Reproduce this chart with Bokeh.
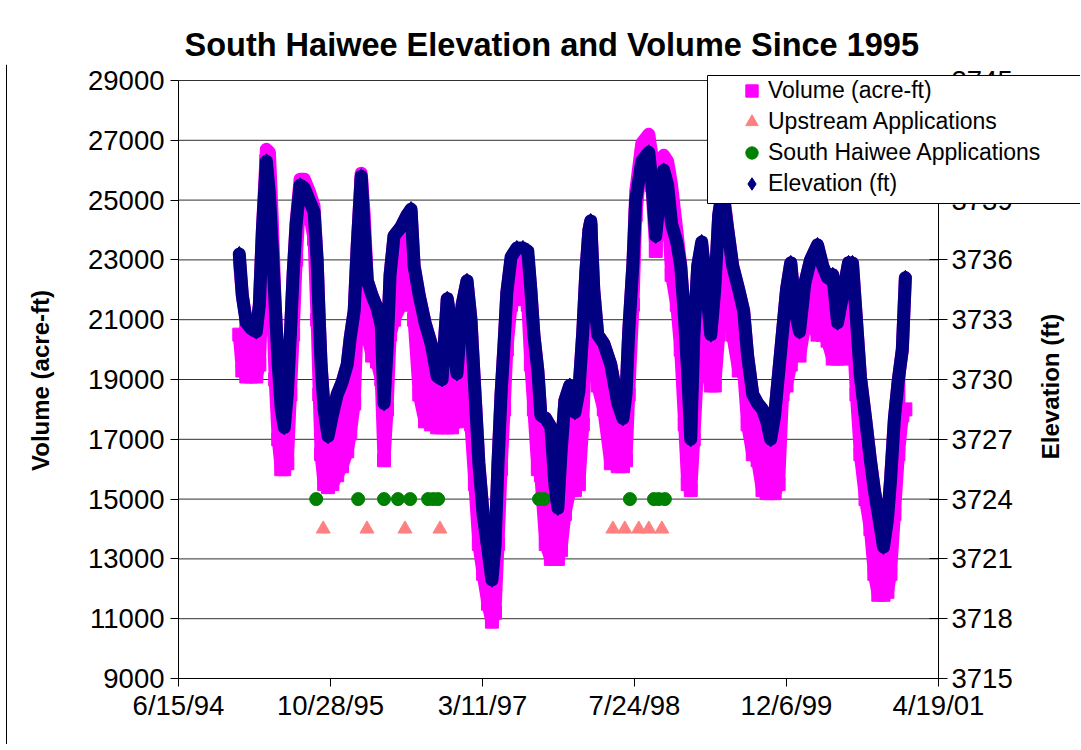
import numpy as np
import pandas as pd
from bokeh.plotting import figure
from bokeh.models import (Range1d, LinearAxis, FixedTicker, Legend, LegendItem,
                          BoxAnnotation, ColumnDataSource, Label, Span)
from bokeh.embed import file_html
from bokeh.resources import INLINE

# ---------------- data ----------------
dates = [
    "1995-01-01","1995-01-11","1995-01-24","1995-02-09","1995-02-26","1995-03-08","1995-03-18","1995-03-31",
    "1995-04-10","1995-04-19","1995-04-29","1995-05-09","1995-05-19","1995-05-29","1995-06-08","1995-06-18",
    "1995-06-27","1995-07-07","1995-07-20","1995-08-03","1995-08-19","1995-09-04","1995-09-14","1995-09-21",
    "1995-09-27","1995-10-07","1995-10-20","1995-11-03","1995-11-19","1995-12-05","1995-12-22",
    "1996-01-01","1996-01-14","1996-01-24","1996-02-06","1996-02-16","1996-02-26","1996-03-13","1996-03-29",
    "1996-04-12","1996-04-21","1996-05-01","1996-05-11","1996-05-24","1996-06-16","1996-07-06","1996-07-19",
    "1996-07-29","1996-08-15","1996-09-03","1996-09-23","1996-10-13","1996-10-29","1996-11-15","1996-12-01",
    "1996-12-17",
    "1997-01-03","1997-01-19","1997-02-01","1997-02-14","1997-02-27","1997-03-13","1997-03-29","1997-04-11",
    "1997-04-21","1997-05-01","1997-05-11","1997-05-21","1997-05-30","1997-06-13","1997-07-02","1997-07-22",
    "1997-08-07","1997-08-17","1997-08-27","1997-09-09","1997-09-19","1997-10-05","1997-10-22","1997-11-04",
    "1997-11-14","1997-11-24","1997-12-07","1997-12-23",
    "1998-01-09","1998-01-22","1998-02-04","1998-02-14","1998-02-24","1998-03-02","1998-03-12","1998-03-25",
    "1998-04-14","1998-05-07","1998-05-30","1998-06-16","1998-06-26","1998-07-05","1998-07-19","1998-07-28",
    "1998-08-17","1998-09-09","1998-09-19","1998-10-02","1998-10-15","1998-10-28","1998-11-10","1998-11-23",
    "1998-12-10","1998-12-23",
    "1999-01-05","1999-01-15","1999-01-25","1999-02-04","1999-02-17","1999-03-02","1999-03-15","1999-04-01",
    "1999-04-14","1999-04-27","1999-05-10","1999-05-27","1999-06-12","1999-07-02","1999-07-18","1999-07-31",
    "1999-08-17","1999-09-02","1999-09-18","1999-10-02","1999-10-15","1999-10-28","1999-11-10","1999-11-23",
    "1999-12-06","1999-12-20",
    "2000-01-05","2000-01-18","2000-02-04","2000-02-23","2000-03-17","2000-04-03","2000-04-19","2000-05-06",
    "2000-05-22","2000-06-11","2000-06-27","2000-07-10","2000-07-23","2000-08-05","2000-08-22","2000-09-07",
    "2000-09-20","2000-10-03","2000-10-20","2000-11-02","2000-11-12","2000-11-25","2000-12-08","2000-12-21",
    "2000-12-31",
]

# Elevation (ft) - right axis
elevation_ft = [
    3736.30, 3734.20, 3732.85, 3732.55, 3732.40, 3733.75, 3737.50, 3740.95, 3739.30, 3736.75, 3733.75,
    3730.75, 3728.50, 3727.60, 3729.25, 3732.25, 3735.25, 3737.80, 3739.75, 3739.60, 3739.00, 3738.40,
    3736.00, 3733.00, 3730.75, 3728.50, 3727.15, 3728.20, 3729.25, 3729.85, 3730.75,
    3732.10, 3733.45, 3736.75, 3740.20, 3737.50, 3734.95, 3734.20, 3733.60, 3732.70, 3728.80, 3731.50,
    3735.25, 3737.20, 3737.65, 3738.25, 3738.55, 3735.70, 3734.20, 3732.85, 3731.80, 3730.15, 3730.00,
    3734.05, 3732.40, 3730.30,
    3733.75, 3734.95, 3733.00, 3729.40, 3725.80, 3723.25, 3721.45, 3719.95, 3721.60, 3725.80, 3729.25,
    3731.80, 3734.35, 3736.15, 3736.60, 3736.60, 3736.45, 3734.50, 3732.25, 3730.45, 3728.20, 3728.05,
    3727.60, 3724.75, 3723.55, 3726.25, 3728.95, 3729.70,
    3728.35, 3729.40, 3732.40, 3735.40, 3737.50, 3737.95, 3734.50, 3732.25, 3731.80, 3730.75, 3728.80,
    3728.05, 3729.25, 3732.40, 3735.85, 3739.00, 3740.95, 3741.40, 3739.90, 3737.20, 3739.30, 3740.50,
    3739.75, 3737.80, 3736.90, 3735.70,
    3733.00, 3730.30, 3727.00, 3732.10, 3735.70, 3736.90, 3734.95, 3732.25, 3734.50, 3738.25, 3739.45,
    3737.50, 3735.70, 3734.50, 3733.45, 3731.20, 3729.25, 3728.80, 3728.50, 3727.90, 3727.00, 3728.20,
    3730.30, 3732.40, 3734.50, 3735.85,
    3733.30, 3732.40, 3734.80, 3736.00, 3736.75, 3735.70, 3735.10, 3735.25, 3732.85, 3734.50, 3735.85,
    3735.85, 3733.00, 3730.15, 3728.05, 3725.95, 3724.45, 3723.25, 3721.60, 3722.95, 3724.90, 3728.05,
    3730.00, 3731.50, 3735.10,
]

# Volume (acre-ft) - lower and upper edge of the daily spread
volume_low = [
    20500, 19300, 19100, 19100, 19100, 19500, 22000, 26300, 25500, 22000, 19000, 17000, 16000, 16000,
    16200, 18500, 20500, 23000, 25200, 25300, 24600, 23700, 21000, 18500, 16500, 15500, 15400, 15500,
    15800, 16100, 16600,
    17200, 18200, 21000, 25500, 22000, 20500, 19800, 19600, 19000, 16300, 18000, 20500, 21000, 21500,
    22500, 23500, 21000, 18500, 17600, 17500, 17400, 17400, 17400, 17400, 17600,
    17700, 18500, 17500, 15500, 13500, 12500, 11500, 10900, 11200, 13500, 16000, 18000, 20000, 21500,
    21700, 21700, 21500, 19500, 18000, 16000, 15800, 13500, 13000, 13000, 13000, 13300, 14500, 15300,
    15300, 15500, 17500, 20500, 23000, 24000, 20500, 18800, 18000, 16200, 16100, 16100, 16300, 18500,
    21500, 24500, 26500, 26800, 25500, 23300, 25000, 26000, 25000, 22500, 21500, 20000,
    17500, 15500, 15300, 17000, 19500, 20500, 19500, 18800, 18800, 20500, 22500, 21500, 20500, 19300,
    19300, 17500, 16500, 16300, 15300, 15200, 15200, 15200, 15500, 18500, 18800, 19500,
    20500, 19800, 20800, 21000, 20500, 20500, 20300, 19700, 19700, 19700, 20500, 21000, 18500, 16500,
    15000, 14000, 12500, 11800, 11800, 11900, 12500, 14500, 16500, 17800, 18000,
]
volume_high = [
    23000, 21800, 21000, 20800, 20700, 21500, 24000, 26700, 26600, 24500, 21500, 19500, 18000, 17400,
    18500, 20500, 22500, 24300, 25700, 25700, 25300, 24800, 23000, 21000, 19500, 18000, 17100, 17800,
    18500, 18900, 19500,
    20400, 21300, 23500, 25900, 24500, 22300, 21800, 21400, 20800, 18200, 20000, 22500, 23800, 24100,
    24500, 24600, 22800, 21800, 20900, 20200, 19100, 19000, 21700, 20600, 19200,
    21500, 22300, 21000, 18600, 16200, 14500, 13300, 12300, 13400, 16200, 18500, 20200, 21900, 23000,
    23200, 23200, 23100, 22000, 20500, 19300, 17800, 17700, 17400, 15500, 14700, 16500, 18300, 18800,
    17900, 18600, 20600, 22600, 24000, 24300, 22000, 20500, 20200, 19500, 18200, 17700, 18500, 20600,
    22900, 25300, 26900, 27200, 26500, 24000, 25800, 26500, 26300, 25500, 24000, 22800,
    21000, 19200, 17000, 20400, 22800, 23500, 22300, 20500, 22000, 24500, 25500, 24000, 22800, 22000,
    21300, 19800, 18500, 18200, 18000, 17600, 17000, 17800, 19200, 20600, 22000, 22900,
    21200, 20600, 22200, 23000, 23500, 22800, 22400, 22500, 20900, 22000, 22900, 22900, 21000, 19100,
    17700, 16300, 15300, 14500, 13400, 14300, 15600, 17700, 19000, 20000, 22400,
]

upstream_dates = ["1995-10-04", "1996-02-25", "1996-06-29", "1996-10-22",
                  "1998-05-14", "1998-06-22", "1998-08-07", "1998-09-09", "1998-10-22"]
upstream_marker_level = 14000
haiwee_dates = ["1995-09-11", "1996-01-27", "1996-04-21", "1996-06-06", "1996-07-16",
                "1996-09-13", "1996-09-30", "1996-10-16", "1997-09-13", "1997-09-29",
                "1998-07-09", "1998-09-26", "1998-10-12", "1998-11-01"]
haiwee_marker_level = 15000

x_tick_days = [0, 500, 1000, 1500, 2000, 2500]
x_tick_labels = ["6/15/94", "10/28/95", "3/11/97", "7/24/98", "12/6/99", "4/19/01"]
volume_ticks = [9000, 11000, 13000, 15000, 17000, 19000, 21000, 23000, 25000, 27000, 29000]
elevation_ticks = [3715, 3718, 3721, 3724, 3727, 3730, 3733, 3736, 3739, 3742, 3745]

# ---------------- helpers ----------------
origin = pd.Timestamp("1994-06-15")


def to_days(ds):
    return [(pd.Timestamp(d) - origin).days for d in ds]


FONT = "Liberation Sans"
PINK = "#FF00FF"
NAVY = "#000080"
SALMON = "#FF8080"
GREEN = "#008000"

# ---------------- geometry (pixels on the page) ----------------
W, H = 1080, 744
TOP = 64                               # frame top (title lives above it)
AX_LEFT, AX_RIGHT = 178, 938           # pixel columns of day 0 and day 2500
AX_TOP, AX_BOTTOM = 80, 678            # pixel rows of 29000 and 9000
d_per_px = (x_tick_days[-1] - x_tick_days[0]) / (AX_RIGHT - AX_LEFT)
v_lo, v_hi = volume_ticks[0], volume_ticks[-1]
e_lo, e_hi = elevation_ticks[0], elevation_ticks[-1]
v_per_px = (v_hi - v_lo) / (AX_BOTTOM - AX_TOP)
e_per_px = (e_hi - e_lo) / (AX_BOTTOM - AX_TOP)


def px_to_day(px):
    return x_tick_days[0] + (px - AX_LEFT) * d_per_px


def py_to_vol(py):
    return v_hi - (py - AX_TOP) * v_per_px


x_start, x_end = px_to_day(0), px_to_day(W)
v_top, v_bot = py_to_vol(TOP), py_to_vol(H)
e_top = e_hi + (AX_TOP - TOP) * e_per_px
e_bot = e_lo - (H - AX_BOTTOM) * e_per_px

src = ColumnDataSource(dict(x=to_days(dates), elev=elevation_ft, vlo=volume_low, vhi=volume_high))
up_src = ColumnDataSource(dict(x=to_days(upstream_dates), y=[upstream_marker_level] * len(upstream_dates)))
hw_src = ColumnDataSource(dict(x=to_days(haiwee_dates), y=[haiwee_marker_level] * len(haiwee_dates)))

p = figure(width=W, height=H, output_backend="svg", toolbar_location=None,
           x_range=Range1d(x_start, x_end), y_range=Range1d(v_bot, v_top),
           min_border_left=0, min_border_right=0, min_border_top=TOP, min_border_bottom=0)
p.extra_y_ranges = {"elev": Range1d(e_bot, e_top)}
p.outline_line_color = None
p.background_fill_color = "white"
p.border_fill_color = "white"

# title
p.title.text = "South Haiwee Elevation and Volume Since 1995"
p.title.align = "left"
p.title.offset = 184
p.title.text_font = FONT
p.title.text_font_size = "32.5px"
p.title.text_font_style = "bold"
p.title.text_color = "black"
p.title.standoff = 4

# outer chart border on the left
p.add_layout(Span(location=px_to_day(6), dimension="height", line_color="black", line_width=1))

# grid: horizontal lines only across the dated span
p.xgrid.visible = False
p.ygrid.visible = False
n = len(volume_ticks)
p.segment(x0=[x_tick_days[0]] * n, y0=volume_ticks, x1=[x_tick_days[-1]] * n, y1=volume_ticks,
          line_color="#303030", line_width=1)


def style_axis(ax):
    ax.axis_line_color = "black"
    ax.major_tick_line_color = "black"
    ax.minor_tick_line_color = None
    ax.major_label_text_font = FONT
    ax.major_label_text_font_size = "27.5px"
    ax.major_label_text_color = "black"


xa = p.below[0]
style_axis(xa)
xa.fixed_location = v_lo
xa.ticker = FixedTicker(ticks=x_tick_days)
xa.bounds = (x_tick_days[0], x_tick_days[-1])
xa.major_label_overrides = {d: lab for d, lab in zip(x_tick_days, x_tick_labels)}
xa.major_tick_in = 0
xa.major_tick_out = 8
xa.major_label_standoff = 3

ya = p.left[0]
style_axis(ya)
ya.fixed_location = x_tick_days[0]
ya.ticker = FixedTicker(ticks=volume_ticks)
ya.bounds = (v_lo, v_hi)
ya.major_tick_in = 0
ya.major_tick_out = 8
ya.major_label_standoff = 6

ra = LinearAxis(y_range_name="elev", ticker=FixedTicker(ticks=elevation_ticks),
                fixed_location=x_tick_days[-1], bounds=(e_lo, e_hi))
style_axis(ra)
ra.major_tick_in = 9
ra.major_tick_out = 9
ra.major_label_standoff = 4
p.add_layout(ra, "right")

# axis titles
p.add_layout(Label(x=px_to_day(40), y=py_to_vol(380), text="Volume (acre-ft)", angle=np.pi / 2,
                   text_align="center", text_baseline="middle", text_font=FONT, text_font_size="24px",
                   text_font_style="bold", text_color="black"))
p.add_layout(Label(x=px_to_day(1050), y=py_to_vol(386), text="Elevation (ft)", angle=np.pi / 2,
                   text_align="center", text_baseline="middle", text_font=FONT, text_font_size="24px",
                   text_font_style="bold", text_color="black"))

# ---------------- series ----------------
p.varea(x="x", y1="vlo", y2="vhi", source=src, fill_color=PINK, fill_alpha=1)
p.line(x="x", y="vlo", source=src, line_color=PINK, line_width=13, line_join="round", line_cap="round")
p.line(x="x", y="vhi", source=src, line_color=PINK, line_width=13, line_join="round", line_cap="round")
vol_r = p.scatter(x="x", y="vlo", source=src, marker="square", size=13, fill_color=PINK, line_color=PINK)

up_r = p.scatter(x="x", y="y", source=up_src, marker="triangle", size=14, fill_color=SALMON, line_color=SALMON)
hw_r = p.scatter(x="x", y="y", source=hw_src, marker="circle", size=13, fill_color=GREEN, line_color=GREEN)

p.line(x="x", y="elev", source=src, y_range_name="elev", line_color=NAVY, line_width=13,
       line_join="round", line_cap="round")
el_r = p.scatter(x="x", y="elev", source=src, y_range_name="elev", marker="diamond",
                 size=15, fill_color=NAVY, line_color=NAVY)

# ---------------- legend ----------------
box = BoxAnnotation(left=px_to_day(707), right=px_to_day(W + 40), bottom=py_to_vol(203),
                    top=py_to_vol(75),
                    fill_color="white", fill_alpha=1, line_color="black", line_width=1, line_alpha=1)
p.add_layout(box)

legend = Legend(items=[
    LegendItem(label="Volume (acre-ft)", renderers=[vol_r]),
    LegendItem(label="Upstream Applications", renderers=[up_r]),
    LegendItem(label="South Haiwee Applications", renderers=[hw_r]),
    LegendItem(label="Elevation (ft)", renderers=[el_r]),
], location=(736, 545), orientation="vertical", glyph_width=31, glyph_height=31, label_height=31,
    label_standoff=1, spacing=0, padding=0, margin=0, border_line_alpha=0, background_fill_alpha=0,
    label_text_font=FONT, label_text_font_size="23px", label_text_color="black")
p.add_layout(legend, "center")

open("out.html", "w").write(file_html(p, INLINE))
